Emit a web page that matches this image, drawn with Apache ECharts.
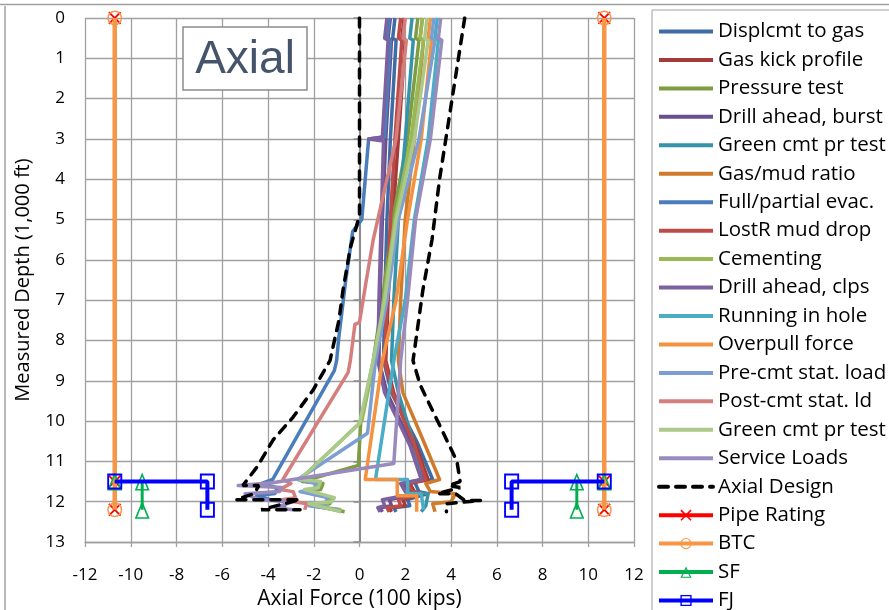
<!DOCTYPE html>
<html>
<head>
<meta charset="utf-8">
<script src="https://cdn.jsdelivr.net/npm/echarts@6/dist/echarts.min.js"></script>
<style>
html,body{margin:0;padding:0;background:#fff;}
#chart{width:889px;height:610px;}
</style>
</head>
<body>
<div id="chart"></div>
<script>
// ---------- DATA: [axial force (100 kips), measured depth (1,000 ft)] ----------
const xTicks = [-12,-10,-8,-6,-4,-2,0,2,4,6,8,10,12];
const yTicks = [0,1,2,3,4,5,6,7,8,9,10,11,12,13];

const seriesNames = ['Displcmt to gas','Gas kick profile','Pressure test','Drill ahead, burst','Green cmt pr test','Gas/mud ratio','Full/partial evac.','LostR mud drop','Cementing','Drill ahead, clps','Running in hole','Overpull force','Pre-cmt stat. load','Post-cmt stat. ld','Green cmt pr test\u200B','Service Loads'];
const seriesColors = ['#3E6CA6','#A23B3A','#7D9C43','#6A4F8E','#3793A9','#D07A2B','#4A7EBB','#BE4B48','#98B954','#7D60A0','#4BACC6','#F59240','#7C9ED2','#D47F7D','#AAC98A','#9A8BBF'];

const displcmtToGas = [[1.55,0],[1.45,0.5],[1.6,0.55],[1.35,3],[1.2,5],[1.1,7],[1.05,8.5],[1.4,9.3],[2.5,10.5],[3.2,11.45],[2.4,11.5],[2.6,11.75],[3.0,11.8],[2.1,11.95],[2.2,12.1],[1.5,12.15],[1.6,12.25]];
const gasKickProfile = [[1.95,0],[1.85,0.5],[2.0,0.55],[1.7,3],[1.45,5],[1.25,7],[1.15,8.5],[1.5,9.3],[2.4,10.5],[3.0,11.45],[2.2,11.55],[2.4,11.75],[2.8,11.8],[1.9,11.95],[2.0,12.1],[1.3,12.15],[1.4,12.25]];
const pressureTest = [[2.55,0],[2.45,0.5],[2.6,0.55],[2.1,3],[1.45,5],[1.0,7],[0.6,8.5],[0.05,10.05],[-0.05,11.1],[-2.5,11.5],[-1.6,11.55],[-1.7,11.7],[-2.3,11.75],[-1.2,11.9],[-1.3,12.05],[-2.0,12.1],[-0.65,12.25]];
const drillAheadBurst = [[1.35,0],[1.25,0.5],[1.4,0.55],[1.15,3],[1.0,5],[0.9,7],[0.85,8.5],[1.2,9.3],[2.3,10.6],[2.8,11.45],[1.9,11.55],[2.1,11.75],[2.5,11.8],[1.3,11.95],[1.4,12.1],[0.9,12.15],[1.0,12.25]];
const greenCmtPrTest = [[2.3,0],[2.2,0.5],[2.35,0.55],[2.0,3],[1.7,5],[1.5,7],[1.4,8.5],[1.7,9.3],[2.4,10.6],[2.7,11.45],[2.1,11.55],[2.2,11.75],[3.0,11.8],[2.9,12.1],[2.7,12.25]];
const gasMudRatio = [[2.75,0],[2.65,0.5],[2.8,0.55],[2.4,3],[2.0,5],[1.8,7],[1.7,8.5],[1.9,9.3],[2.8,10.5],[3.5,11.45],[2.9,11.55],[3.1,11.75],[4.2,11.8],[4.0,12.0],[3.2,12.05],[3.3,12.25]];
const fullPartialEvac = [[1.3,0],[1.2,0.5],[1.35,0.55],[1.2,2.0],[1.1,2.95],[0.4,3.0],[0.25,4],[0.1,5.0],[-0.3,5.3],[-0.6,6.5],[-0.9,7.9],[-1.0,8.5],[-1.1,8.75],[-3.8,11.45],[-4.3,11.55],[-3.6,11.65],[-3.7,11.8],[-4.5,11.85],[-3.9,11.95],[-3.2,12.0],[-3.3,12.15]];
const lostRMudDrop = [[1.8,0],[1.7,0.5],[1.85,0.55],[1.55,3],[1.35,5],[1.2,7],[1.1,8.5],[1.45,9.3],[2.4,10.6],[2.9,11.45],[2.1,11.55],[2.3,11.75],[2.7,11.8],[1.7,11.95],[1.8,12.1],[1.2,12.15],[1.3,12.25]];
const cementing = [[2.75,0],[2.65,0.5],[2.8,0.55],[2.25,3],[1.55,5],[1.05,7],[0.65,8.5],[0.1,10.0],[-2.6,11.45],[-1.8,11.55],[-1.9,11.7],[-2.5,11.75],[-1.3,11.9],[-1.4,12.05],[-2.1,12.1],[-0.8,12.2]];
const drillAheadClps = [[1.2,0],[1.1,0.5],[1.25,0.55],[1.0,2.95],[0.4,3.0],[1.05,3.05],[0.95,5],[0.85,7],[0.8,8.5],[1.1,9.3],[2.2,10.6],[2.7,11.45],[1.8,11.55],[2.0,11.75],[2.4,11.8],[1.0,11.95],[1.1,12.1],[0.8,12.15],[0.9,12.25]];
const runningInHole = [[3.4,0],[3.3,0.5],[3.45,0.55],[3.0,3],[2.4,5],[2.0,7],[1.5,8.5],[0.7,11.45],[2.1,11.45],[2.1,11.8],[2.7,11.8],[2.8,12.2]];
const overpullForce = [[3.1,0],[3.0,0.5],[3.15,0.55],[2.7,3],[2.1,5],[1.6,7],[1.0,8.5],[0.25,11.45],[1.65,11.45],[1.65,11.85],[2.5,11.85],[2.5,12.25]];
const preCmtStatLoad = [[3.25,0],[3.15,0.5],[3.3,0.55],[2.6,3],[1.7,5],[1.2,7],[0.7,8.5],[0.35,10.3],[-2.7,11.45],[-1.9,11.55],[-2.0,11.7],[-2.6,11.75],[-1.4,11.9],[-1.5,12.05],[-2.2,12.1],[-0.9,12.2]];
const postCmtStatLd = [[2.0,0],[1.9,0.5],[2.05,0.55],[1.6,3],[1.0,4.5],[0.6,5.5],[0.3,6.5],[0.0,7.55],[-0.2,7.6],[-0.4,8.5],[-0.5,8.8],[-3.35,11.45],[-3.0,11.55],[-3.5,11.7],[-2.9,11.75],[-2.8,11.9],[-3.4,11.95],[-2.3,12.05],[-2.4,12.2]];
const greenCmtPrTest2 = [[2.95,0],[2.85,0.5],[3.0,0.55],[2.4,3],[1.6,5],[1.1,7],[0.6,8.5],[0.0,10.06],[-2.6,11.45],[-1.7,11.5],[-1.8,11.65],[-2.4,11.7],[-1.1,11.9],[-1.2,12.0],[-2.2,12.05],[-0.8,12.25]];
const serviceLoads = [[3.55,0],[3.45,0.5],[3.6,0.55],[3.1,3],[2.45,5],[2.1,7],[1.8,8.5],[1.5,11.05],[-3.8,11.53],[-5.3,11.6],[-3.4,11.65],[-3.5,11.75],[-5.0,11.8],[-4.4,11.95],[-2.9,12.0],[-3.7,12.15],[-2.9,12.2]];

const loadData = [displcmtToGas,gasKickProfile,pressureTest,drillAheadBurst,greenCmtPrTest,gasMudRatio,fullPartialEvac,lostRMudDrop,cementing,drillAheadClps,runningInHole,overpullForce,preCmtStatLoad,postCmtStatLd,greenCmtPrTest2,serviceLoads];

const axialDesignLeft = [[0,0],[0,4.9],[-0.4,5.7],[-0.72,6.75],[-0.9,7.5],[-1.29,8.5],[-2.03,9.23],[-2.9,9.9],[-3.78,10.47],[-4.48,11.14],[-5.1,11.6],[-4.4,11.6],[-4.6,11.8],[-5.4,11.95],[-2.6,11.95],[-4.3,12.2],[-2.6,12.2]];
const axialDesignRight = [[4.6,0],[3.5,4],[3.17,5.5],[2.77,6.75],[2.34,8.5],[2.65,9.1],[3.5,10.1],[4.26,11.0],[4.4,11.5],[3.9,11.6],[4.4,11.65],[3.4,11.8],[4.2,11.8],[4.6,11.97],[5.3,11.97],[3.8,12.05],[3.8,12.25]];
const pipeRatingLeft = [[-10.7,0],[-10.7,11.5],[-10.7,12.2]];
const pipeRatingRight = [[10.7,0],[10.7,11.5],[10.7,12.2]];
const btcLeft = [[-10.7,0],[-10.7,12.2]];
const btcRight = [[10.7,0],[10.7,12.2]];
const sfLeft = [[-10.7,11.5],[-9.5,11.5],[-9.5,12.2]];
const sfRight = [[10.7,11.5],[9.5,11.5],[9.5,12.2]];
const fjLeft = [[-10.7,11.5],[-6.65,11.5],[-6.65,12.2]];
const fjRight = [[10.7,11.5],[6.65,11.5],[6.65,12.2]];

// ---------- CHART ----------
const FONT = 'Open Sans';
const symX = 'path://M0,1 L1,0 L5,4 L9,0 L10,1 L6,5 L10,9 L9,10 L5,6 L1,10 L0,9 L4,5 Z';
const symCircle = 'path://M10,0A10,10,0,1,1,10,20A10,10,0,1,1,10,0Z M10,2A8,8,0,1,0,10,18A8,8,0,1,0,10,2Z';
const symTri = 'path://M8,0 L16,18 L0,18 Z M8,4 L2.6,16.4 L13.4,16.4 Z';
const symRect = 'path://M0,0 H16 V16 H0 Z M2,2 V14 H14 V2 Z';

const series = [];
loadData.forEach((d,i)=>{
  series.push({name:seriesNames[i], type:'line', data:d, symbol:'none', color:seriesColors[i],
    lineStyle:{width:3.5, color:seriesColors[i], join:'round'}, animation:false, z:2});
});
[axialDesignLeft, axialDesignRight].forEach(d=>series.push({name:'Axial Design', type:'line', data:d, symbol:'none', color:'#000',
  lineStyle:{width:3.5, color:'#000', type:[9,8], cap:'round'}, animation:false, z:3}));
[pipeRatingLeft, pipeRatingRight].forEach(d=>series.push({name:'Pipe Rating', type:'line', data:d, symbol:symX, symbolSize:13, color:'#FF0000',
  lineStyle:{width:3, color:'#FF0000'}, itemStyle:{color:'#FF0000'}, animation:false, z:4}));
[btcLeft, btcRight].forEach(d=>series.push({name:'BTC', type:'line', data:d, symbol:symCircle, symbolSize:15, color:'#F79646',
  lineStyle:{width:4.5, color:'#F79646'}, itemStyle:{color:'#F79646'}, animation:false, z:5}));
[sfLeft, sfRight].forEach(d=>series.push({name:'SF', type:'line', data:d, symbol:symTri, symbolSize:[15,18], color:'#00B050',
  lineStyle:{width:3, color:'#00B050'}, itemStyle:{color:'#00B050'}, animation:false, z:6}));
[fjLeft, fjRight].forEach(d=>series.push({name:'FJ', type:'line', data:d, symbol:symRect, symbolSize:[15,16], color:'#0000FF',
  lineStyle:{width:4, color:'#0000FF'}, itemStyle:{color:'#0000FF'}, animation:false, z:7}));

const legendData = seriesNames.concat(['Axial Design']).map(n=>({name:n, itemStyle:{opacity:0}, lineStyle:{width:4}}))
  .concat(['Pipe Rating','BTC','SF','FJ'].map(n=>({name:n, lineStyle:{width:4}})));

const chart = echarts.init(document.getElementById('chart'), null, {renderer:'canvas'});
chart.setOption({
  animation:false,
  backgroundColor:'#fff',
  textStyle:{fontFamily:FONT},
  grid:{left:85, right:255, top:18, bottom:68, outerBoundsMode:'none', containLabel:false},
  legend:{
    data:legendData, orient:'vertical', left:652, top:10, height:700,
    padding:[11,20,8,5], itemWidth:54, itemHeight:14, itemGap:7.45,
    borderColor:'#A0A0A0', borderWidth:1, backgroundColor:'#fff',
    textStyle:{fontFamily:FONT, fontSize:20.5, color:'#000', lineHeight:20},
    selectedMode:false
  },
  xAxis:{
    type:'value', min:-12, max:12, interval:2,
    name:'Axial Force (100 kips)', nameLocation:'middle', nameGap:46,
    nameTextStyle:{fontFamily:FONT, fontSize:21, color:'#000'},
    axisLine:{show:true, onZero:false, lineStyle:{color:'#A0A0A0', width:1.3}},
    axisTick:{show:true, length:5, lineStyle:{color:'#A0A0A0', width:1.3}},
    axisLabel:{fontFamily:FONT, fontSize:17, color:'#000', margin:25},
    splitLine:{show:true, lineStyle:{color:'#A0A0A0', width:1.3}}
  },
  yAxis:[{
    type:'value', inverse:true, min:0, max:13, interval:1,
    name:'Measured Depth (1,000 ft)', nameLocation:'middle', nameGap:52, nameRotate:90,
    nameTextStyle:{fontFamily:FONT, fontSize:20, color:'#000'},
    axisLine:{show:false, onZero:false},
    axisTick:{show:false},
    axisLabel:{fontFamily:FONT, fontSize:17, color:'#000', margin:20},
    splitLine:{show:true, lineStyle:{color:'#A0A0A0', width:1.3}}
  },{
    type:'value', inverse:true, min:0, max:13, interval:1, position:'left',
    axisLine:{show:true, onZero:true, lineStyle:{color:'#8C8C8C', width:2}},
    axisTick:{show:true, length:6, lineStyle:{color:'#8C8C8C', width:1.5}},
    axisLabel:{show:false}, splitLine:{show:false}
  }],
  graphic:[
    {type:'line', shape:{x1:0,y1:4.5,x2:889,y2:4.5}, style:{stroke:'#A0A0A0', lineWidth:1.5}, silent:true},
    {type:'line', shape:{x1:5,y1:6,x2:5,y2:610}, style:{stroke:'#A0A0A0', lineWidth:1.5}, silent:true},
    {type:'rect', shape:{x:183,y:27,width:124,height:63}, style:{fill:'#fff', stroke:'#8C8C8C', lineWidth:1.5}, z:100},
    {type:'text', x:245, y:60, style:{text:'Axial', fontFamily:'Liberation Sans', fontSize:46, fill:'#44546A', align:'center', verticalAlign:'middle'}, z:101}
  ],
  series:series
});
</script>
</body>
</html>
